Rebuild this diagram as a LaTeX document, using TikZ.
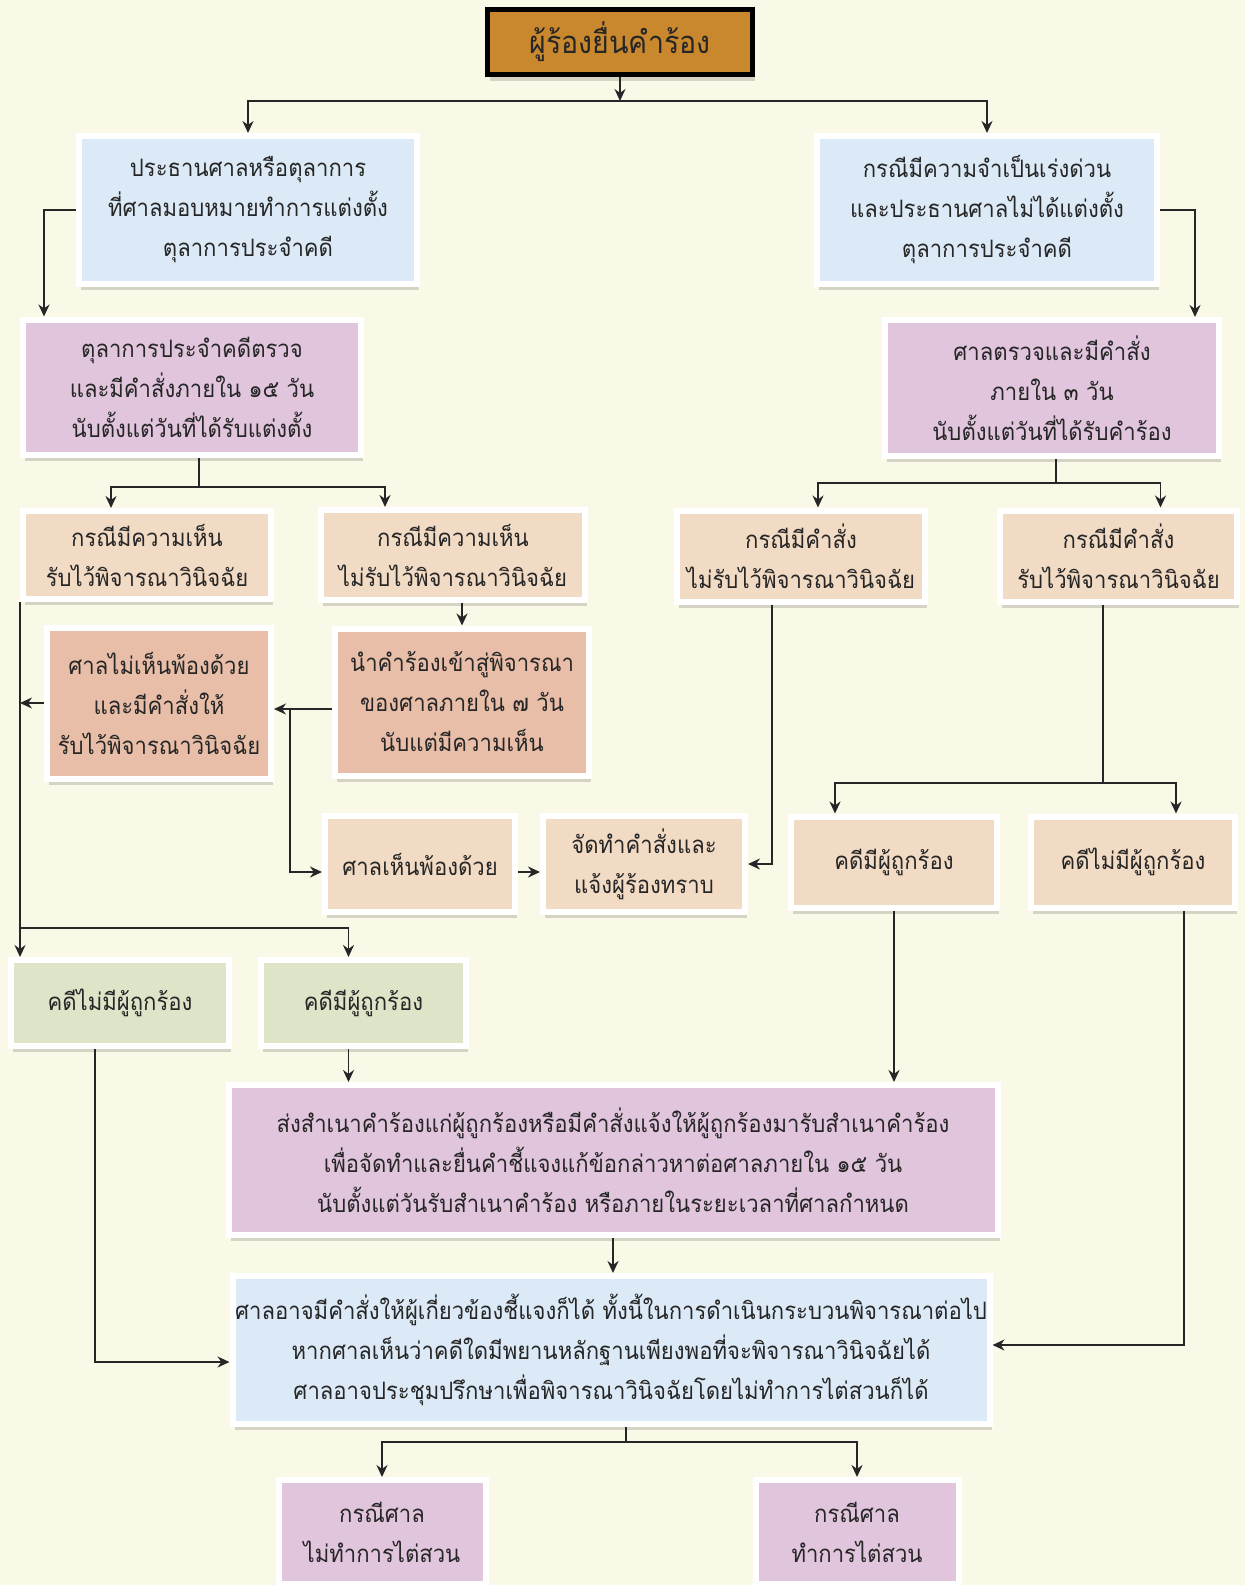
\documentclass[tikz,border=0pt]{standalone}
\usepackage{fontspec}
\newfontfamily\thaifont[Script=Thai, FakeStretch=0.92]{Loma}
\usepackage{tikz}
\usetikzlibrary{positioning,arrows.meta,shadows}

\definecolor{bgcream}{RGB}{250,248,231}
\definecolor{startfill}{RGB}{201,136,46}
\definecolor{boxblue}{RGB}{220,234,247}
\definecolor{boxpurple}{RGB}{225,197,221}
\definecolor{boxpeach}{RGB}{242,219,196}
\definecolor{boxsalmon}{RGB}{232,190,168}
\definecolor{boxgreen}{RGB}{222,228,200}

\begin{document}
\begin{tikzpicture}[
    x=1pt, y=-1pt,
    box/.style={rectangle, draw=white, line width=6pt, inner sep=0pt, align=center, text=black!85,
        font=\thaifont\fontsize{24}{40}\selectfont,
        drop shadow={shadow xshift=2pt, shadow yshift=-6pt, fill=black, opacity=0.15}},
    startbox/.style={box, draw=black, line width=5pt, fill=startfill, font=\thaifont\fontsize{31}{40}\selectfont},
    bluebox/.style={box, fill=boxblue},
    purplebox/.style={box, fill=boxpurple},
    peachbox/.style={box, fill=boxpeach},
    salmonbox/.style={box, fill=boxsalmon},
    greenbox/.style={box, fill=boxgreen},
    line/.style={line width=1.8pt, draw=black!85},
    arrow/.style={line, -{Stealth[length=12pt,width=11pt]}}
]
    \useasboundingbox (0,0) rectangle (1245,1585);
    \fill[bgcream] (0,0) rectangle (1245,1585);
    \clip (0,0) rectangle (1245,1585);

    \node[startbox, minimum width=265pt, minimum height=65pt] (start) at (620,42) {ผู้ร้องยื่นคำร้อง};

    \node[bluebox, minimum width=338pt, minimum height=148pt] (a1) at (248,210) {ประธานศาลหรือตุลาการ\\ที่ศาลมอบหมายทำการแต่งตั้ง\\ตุลาการประจำคดี};
    \node[bluebox, minimum width=340pt, minimum height=148pt] (a2) at (987,210) {กรณีมีความจำเป็นเร่งด่วน\\และประธานศาลไม่ได้แต่งตั้ง\\ตุลาการประจำคดี};

    \node[purplebox, minimum width=338pt, minimum height=135pt] (b1) at (192,387) {ตุลาการประจำคดีตรวจ\\และมีคำสั่งภายใน ๑๕ วัน\\นับตั้งแต่วันที่ได้รับแต่งตั้ง};
    \node[purplebox, minimum width=334pt, minimum height=136pt] (b2) at (1052,388) {ศาลตรวจและมีคำสั่ง\\ภายใน ๓ วัน\\นับตั้งแต่วันที่ได้รับคำร้อง};

    \node[peachbox, minimum width=248pt, minimum height=88pt] (c1) at (147,555) {กรณีมีความเห็น\\รับไว้พิจารณาวินิจฉัย};
    \node[peachbox, minimum width=264pt, minimum height=90pt, right=44pt of c1] (c2) {กรณีมีความเห็น\\ไม่รับไว้พิจารณาวินิจฉัย};
    \node[peachbox, minimum width=248pt, minimum height=91pt] (c3) at (801,556) {กรณีมีคำสั่ง\\ไม่รับไว้พิจารณาวินิจฉัย};
    \node[peachbox, minimum width=237pt, minimum height=91pt, right=69pt of c3] (c4) {กรณีมีคำสั่ง\\รับไว้พิจารณาวินิจฉัย};

    \node[salmonbox, minimum width=224pt, minimum height=151pt] (d1) at (159,703) {ศาลไม่เห็นพ้องด้วย\\และมีคำสั่งให้\\รับไว้พิจารณาวินิจฉัย};
    \node[salmonbox, minimum width=254pt, minimum height=147pt] (d2) at (462,702) {นำคำร้องเข้าสู่พิจารณา\\ของศาลภายใน ๗ วัน\\นับแต่มีความเห็น};

    \node[peachbox, minimum width=190pt, minimum height=96pt] (e1) at (420,864) {ศาลเห็นพ้องด้วย};
    \node[peachbox, minimum width=202pt, minimum height=96pt, right=22pt of e1] (e2) {จัดทำคำสั่งและ\\แจ้งผู้ร้องทราบ};
    \node[peachbox, minimum width=206pt, minimum height=91pt] (e3) at (894,862) {คดีมีผู้ถูกร้อง};
    \node[peachbox, minimum width=204pt, minimum height=91pt, right=28pt of e3] (e4) {คดีไม่มีผู้ถูกร้อง};

    \node[greenbox, minimum width=218pt, minimum height=86pt] (f1) at (120,1003) {คดีไม่มีผู้ถูกร้อง};
    \node[greenbox, minimum width=205pt, minimum height=86pt, right=26pt of f1] (f2) {คดีมีผู้ถูกร้อง};

    \node[purplebox, minimum width=769pt, minimum height=150pt] (g) at (613,1160) {ส่งสำเนาคำร้องแก่ผู้ถูกร้องหรือมีคำสั่งแจ้งให้ผู้ถูกร้องมารับสำเนาคำร้อง\\เพื่อจัดทำและยื่นคำชี้แจงแก้ข้อกล่าวหาต่อศาลภายใน ๑๕ วัน\\นับตั้งแต่วันรับสำเนาคำร้อง หรือภายในระยะเวลาที่ศาลกำหนด};
    \node[bluebox, minimum width=757pt, minimum height=148pt] (h) at (611,1350) {ศาลอาจมีคำสั่งให้ผู้เกี่ยวข้องชี้แจงก็ได้ ทั้งนี้ในการดำเนินกระบวนพิจารณาต่อไป\\หากศาลเห็นว่าคดีใดมีพยานหลักฐานเพียงพอที่จะพิจารณาวินิจฉัยได้\\ศาลอาจประชุมปรึกษาเพื่อพิจารณาวินิจฉัยโดยไม่ทำการไต่สวนก็ได้};

    \node[purplebox, minimum width=207pt, minimum height=104pt] (i1) at (382,1532) {กรณีศาล\\ไม่ทำการไต่สวน};
    \node[purplebox, minimum width=203pt, minimum height=104pt] (i2) at (857,1532) {กรณีศาล\\ทำการไต่สวน};

    \coordinate (j0) at (620,101);
    \coordinate (j1) at (199,487);
    \coordinate (j2) at (1056,483);
    \coordinate (j3) at (20,928);
    \coordinate (j4) at (290,709);
    \coordinate (j5) at (1103,783);
    \coordinate (j6) at (626,1442);

    \draw[arrow] (start.south) -- (j0);
    \draw[arrow] (j0) -| (a1.north);
    \draw[arrow] (j0) -| (a2.north);
    \draw[arrow] (a1.west) -| ([xshift=24pt]b1.north west);
    \draw[arrow] (a2.east) -| ([xshift=-27pt]b2.north east);

    \draw[line] (b1.south -| j1) -- (j1);
    \draw[arrow] (j1) -| ([xshift=-36pt]c1.north);
    \draw[arrow] (j1) -| ([xshift=-68pt]c2.north);
    \draw[line] (b2.south -| j2) -- (j2);
    \draw[arrow] (j2) -| ([xshift=17pt]c3.north);
    \draw[arrow] (j2) -| ([xshift=42pt]c4.north);

    \draw[line] (c1.south west) -- (j3);
    \draw[arrow] (d1.west) -- (d1.west -| j3);
    \draw[arrow] (d2.north |- c2.south) -- (d2.north);
    \draw[arrow] ([yshift=-7pt]d2.west) -- ([yshift=-7pt]d2.west -| d1.east);
    \draw[arrow] (j4) |- ([yshift=-8pt]e1.west);
    \draw[arrow] ([yshift=-8pt]e1.east) -- ([yshift=-8pt]e2.west);
    \draw[arrow] ([xshift=-29pt]c3.south) |- (e2.east);

    \draw[line] (c4.south -| j5) -- (j5);
    \draw[arrow] (j5) -| ([xshift=-59pt]e3.north);
    \draw[arrow] (j5) -| ([xshift=43pt]e4.north);

    \draw[arrow] (j3) -- (j3 |- f1.north);
    \draw[arrow] (j3) -| ([xshift=-15pt]f2.north);
    \draw[arrow] ([xshift=-15pt]f2.south) -- ([xshift=-15pt]f2.south |- g.north);
    \draw[arrow] (e3.south) -- (e3.south |- g.north);
    \draw[arrow] (g.south) -- (g.south |- h.north);
    \draw[arrow] ([xshift=-25pt]f1.south) |- ([yshift=-12pt]h.west);
    \draw[arrow] ([xshift=51pt]e4.south) |- ([yshift=5pt]h.east);

    \draw[line] (h.south -| j6) -- (j6);
    \draw[arrow] (j6) -| (i1.north);
    \draw[arrow] (j6) -| (i2.north);
\end{tikzpicture}
\end{document}
